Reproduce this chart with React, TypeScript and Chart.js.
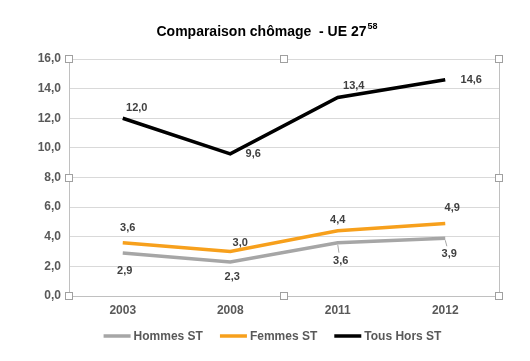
import React, { useEffect, useRef } from "react";
import { Chart, registerables } from "chart.js";

Chart.register(...registerables);

const categories = ["2003", "2008", "2011", "2012"];
const hommesST = [2.9, 2.3, 3.6, 3.9];
const femmesST = [3.6, 3.0, 4.4, 4.9];
const tousHorsST = [12.0, 9.6, 13.4, 14.6];
const seriesNames = ["Hommes ST", "Femmes ST", "Tous Hors ST"];
const titleMain = "Comparaison chômage  - UE 27";
const titleSup = "58";

const colors = ["#a6a6a6", "#f7a01c", "#000000"];
// label offsets (dx, dy) relative to each point, per series
const labelOffsets = [
  [[2, 18], [2, 15], [3, 18], [4, 16]],
  [[5, -15], [10, -9], [0, -11], [7, -15]],
  [[14, -10], [23, 0], [16, -12], [26, 0]],
];
const leaderLines = [[false, false, true, true], [false, false, false, false], [false, false, false, false]];

const fmt = (v: number) => v.toFixed(1).replace(".", ",");
const FONT = "'Liberation Sans', Arial, sans-serif";

const decorPlugin = {
  id: "decor",
  beforeDatasetsDraw(chart: any) {
    const { ctx, chartArea: a } = chart;
    ctx.save();
    ctx.strokeStyle = "#c0c0c0";
    ctx.lineWidth = 1;
    ctx.beginPath();
    ctx.moveTo(Math.round(a.right) + 0.5, a.top);
    ctx.lineTo(Math.round(a.right) + 0.5, a.bottom);
    ctx.stroke();
    ctx.restore();
  },
  afterDatasetsDraw(chart: any) {
    const { ctx, chartArea: a } = chart;
    ctx.save();
    // data labels
    ctx.font = `bold 11px ${FONT}`;
    ctx.fillStyle = "#404040";
    ctx.textAlign = "center";
    ctx.textBaseline = "middle";
    chart.data.datasets.forEach((ds: any, di: number) => {
      const meta = chart.getDatasetMeta(di);
      meta.data.forEach((pt: any, i: number) => {
        const [dx, dy] = labelOffsets[di][i];
        const x = pt.x + dx;
        const y = pt.y + dy;
        if (leaderLines[di][i]) {
          ctx.strokeStyle = "#a6a6a6";
          ctx.lineWidth = 1;
          ctx.beginPath();
          ctx.moveTo(pt.x, pt.y + 2);
          ctx.lineTo(pt.x + dx * 0.4, y - 8);
          ctx.stroke();
        }
        ctx.fillText(fmt(ds.data[i]), x, y);
      });
    });
    // handles
    const mx = (a.left + a.right) / 2;
    const my = (a.top + a.bottom) / 2;
    const pts = [
      [a.left, a.top], [mx, a.top], [a.right, a.top],
      [a.left, my], [a.right, my],
      [a.left, a.bottom], [mx, a.bottom], [a.right, a.bottom],
    ];
    ctx.fillStyle = "#ffffff";
    ctx.strokeStyle = "#a0a0a0";
    ctx.lineWidth = 1;
    pts.forEach(([x, y]) => {
      const rx = Math.round(x) - 3.5;
      const ry = Math.round(y) - 3.5;
      ctx.fillRect(rx, ry, 7, 7);
      ctx.strokeRect(rx, ry, 7, 7);
    });
    // title
    ctx.fillStyle = "#000000";
    ctx.textAlign = "left";
    ctx.textBaseline = "middle";
    ctx.font = `bold 14px ${FONT}`;
    const wMain = ctx.measureText(titleMain).width;
    ctx.font = `bold 9px ${FONT}`;
    const wSup = ctx.measureText(titleSup).width;
    const tx = 267 - (wMain + wSup + 1) / 2;
    ctx.font = `bold 14px ${FONT}`;
    ctx.fillText(titleMain, tx, 32);
    ctx.font = `bold 9px ${FONT}`;
    ctx.fillText(titleSup, tx + wMain + 1, 27);
    // legend
    ctx.font = `bold 12px ${FONT}`;
    const lineLen = 27;
    const gapText = 3;
    const gapItem = 17;
    const widths = seriesNames.map((n) => lineLen + gapText + ctx.measureText(n).width);
    const total = widths.reduce((s, w) => s + w, 0) + gapItem * (seriesNames.length - 1);
    let lx = 272.5 - total / 2;
    const ly = 336;
    seriesNames.forEach((n, i) => {
      ctx.strokeStyle = colors[i];
      ctx.lineWidth = 3.5;
      ctx.beginPath();
      ctx.moveTo(lx, ly);
      ctx.lineTo(lx + lineLen, ly);
      ctx.stroke();
      ctx.fillStyle = "#595959";
      ctx.fillText(n, lx + lineLen + gapText, ly + 0.5);
      lx += widths[i] + gapItem;
    });
    ctx.restore();
  },
};

export default function App() {
  const ref = useRef<HTMLCanvasElement | null>(null);
  useEffect(() => {
    if (!ref.current) return;
    const series = [hommesST, femmesST, tousHorsST];
    const chart = new Chart(ref.current, {
      type: "line",
      data: {
        labels: categories,
        datasets: series.map((d, i) => ({
          label: seriesNames[i],
          data: d,
          borderColor: colors[i],
          backgroundColor: colors[i],
          borderWidth: 3.5,
          pointRadius: 0,
          tension: 0,
          fill: false,
        })),
      },
      options: {
        responsive: false,
        animation: false,
        layout: { padding: { top: 59, right: 31, bottom: 40, left: 0 } },
        plugins: {
          legend: { display: false },
          title: { display: false },
          tooltip: { enabled: false },
        },
        scales: {
          x: {
            offset: true,
            grid: { display: false, drawTicks: false },
            border: { display: true, color: "#c0c0c0", width: 1 },
            ticks: {
              padding: 7,
              color: "#595959",
              font: { family: FONT, size: 12, weight: "bold" },
            },
            afterFit: (s: any) => { s.height = 25; },
          },
          y: {
            min: 0,
            max: 16,
            grid: { color: "#d9d9d9", drawTicks: false },
            border: { display: true, color: "#c0c0c0", width: 1 },
            ticks: {
              stepSize: 2,
              padding: 8,
              color: "#595959",
              font: { family: FONT, size: 12, weight: "bold" },
              callback: (v: any) => fmt(Number(v)),
            },
            afterFit: (s: any) => { s.width = 69; },
          },
        },
      },
      plugins: [decorPlugin],
    } as any);
    return () => chart.destroy();
  }, []);
  return (
    <div style={{ position: "fixed", left: 0, top: 0, width: 530, height: 361, background: "#fff" }}>
      <canvas ref={ref} width={530} height={361} style={{ display: "block" }} />
    </div>
  );
}
